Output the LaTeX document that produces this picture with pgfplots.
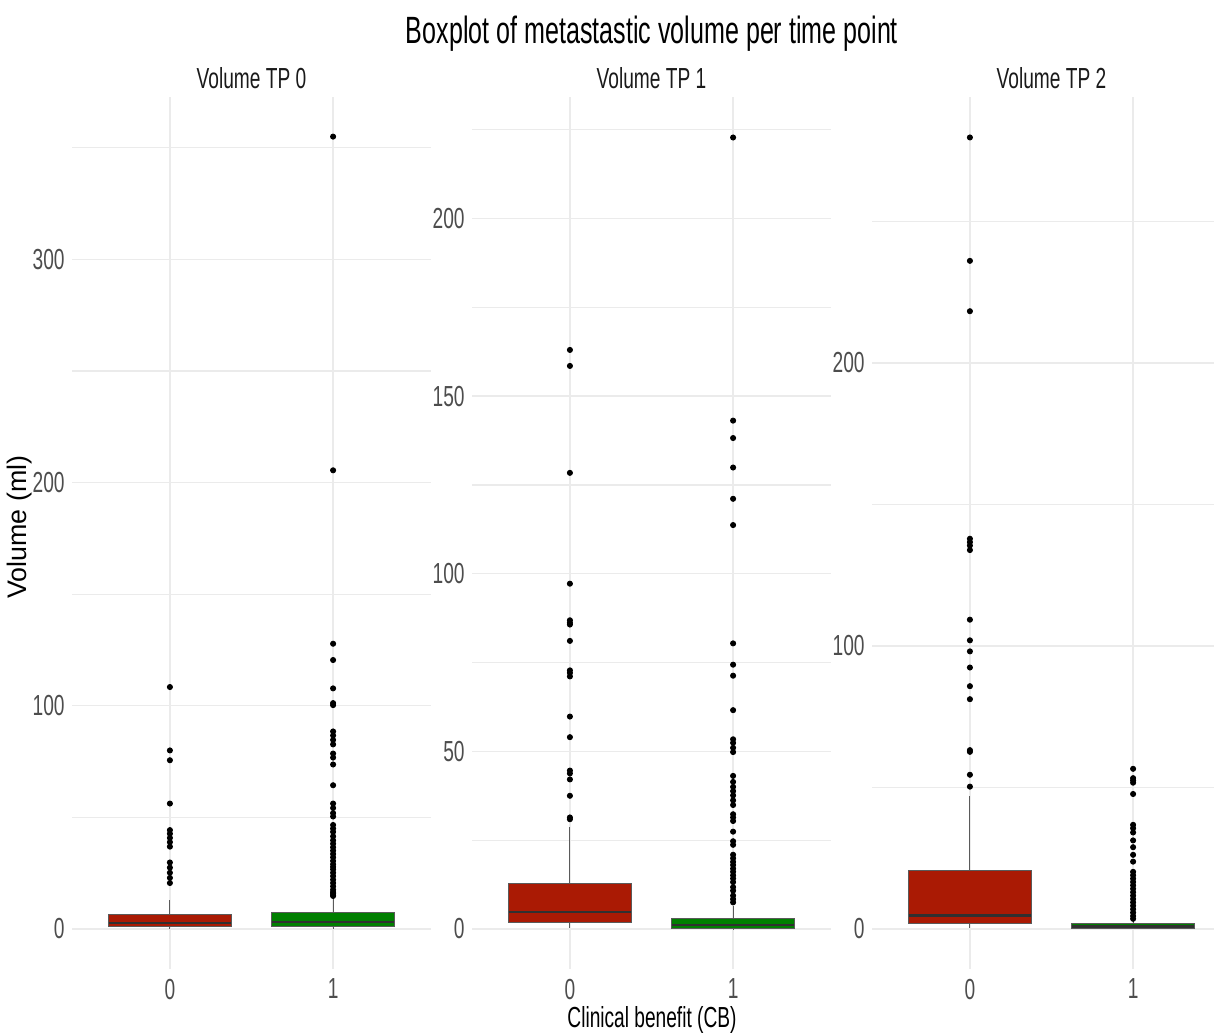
\documentclass[border=0pt]{standalone}
\usepackage{fontspec}
\setmainfont[FakeStretch=0.66]{Liberation Sans}
\newfontfamily\ylabfont{Liberation Sans}
\usepackage{pgfplots}
\pgfplotsset{compat=1.18}
\usepgfplotslibrary{statistics}
\definecolor{cred}{HTML}{AA1A04}
\definecolor{cgreen}{HTML}{007F00}
\definecolor{edgec}{HTML}{5A5A5A}
\definecolor{medc}{HTML}{303030}
\definecolor{gridc}{HTML}{EBEBEB}
\definecolor{tickc}{HTML}{4D4D4D}
\definecolor{stripc}{HTML}{1A1A1A}
\pgfplotsset{
  facet/.style={
    scale only axis, width=179.5pt, height=435.8pt,
    xmin=0.4, xmax=2.6, xtick={1,2}, xticklabels={0,1},
    axis line style={draw=none}, major tick length=0pt, minor tick length=0pt,
    xmajorgrids, ymajorgrids, yminorgrids,
    major grid style={draw=gridc, line width=0.7pt},
    minor grid style={draw=gridc, line width=0.6pt},
    ticklabel style={font=\fontsize{14.5}{16}\selectfont, text=tickc},
    /pgf/number format/assume math mode=true,
    yticklabel style={inner sep=2pt, xshift=-1.5pt},
    xticklabel style={inner sep=2pt, yshift=-3pt},
    boxplot/draw direction=y,
    boxplot/box extend=0.75, boxplot/whisker extend=0,
    boxplot/every box/.style={draw=edgec, line width=0.5pt},
    boxplot/every whisker/.style={draw=edgec, line width=0.5pt},
    boxplot/every median/.style={draw=medc, line width=1.1pt},
  },
  redbox/.style={draw=edgec, boxplot/every box/.append style={fill=cred},
    mark=*, mark size=1.3pt, mark options={fill=black, draw=black, solid}},
  greenbox/.style={draw=edgec, boxplot/every box/.append style={fill=cgreen},
    mark=*, mark size=1.3pt, mark options={fill=black, draw=black, solid}},
}
\begin{document}
\begin{tikzpicture}
\path[use as bounding box] (0pt,0pt) rectangle (607pt,517pt);

% ---------- TP 0 ----------
\begin{axis}[facet, at={(36pt,32.7pt)}, anchor=south west,
  ymin=-17.75, ymax=372.75, ytick={0,100,200,300}, minor ytick={50,150,250,350}]
\addplot[redbox, boxplot prepared={draw position=1, lower whisker=0.2,
  lower quartile=1.2, median=2.6, upper quartile=6.4, upper whisker=13}]
  table[row sep=\\, y index=0] {y\\ 108.4\\ 80\\ 75.6\\ 56.2\\ 44.3\\ 42.7\\ 40.8\\ 38.9\\ 36.9\\ 29.8\\ 27.5\\ 25.2\\ 22.9\\ 20.6\\};
\addplot[greenbox, boxplot prepared={draw position=2, lower whisker=0.1,
  lower quartile=1.2, median=3.05, upper quartile=7.3, upper whisker=13.7}]
  table[row sep=\\, y index=0] {y\\ 355\\ 205.5\\ 127.8\\ 120.5\\ 107.8\\ 101.2\\ 100.3\\ 88.5\\ 86.7\\ 84.7\\ 82.7\\ 78.6\\ 76.8\\ 73.7\\ 64.4\\ 56.2\\ 54.2\\ 51.9\\ 50.4\\ 46.6\\ 45\\ 43.5\\ 41.5\\ 39.7\\ 38.2\\ 36.6\\ 35.1\\ 33.6\\ 32.1\\ 30.5\\ 29\\ 27.8\\ 26.7\\ 25.2\\ 23.7\\ 22.1\\ 20.6\\ 19.1\\ 17.6\\ 16.5\\ 16\\ 15.2\\ 14.8\\};
\end{axis}

% ---------- TP 1 ----------
\begin{axis}[facet, at={(236pt,32.7pt)}, anchor=south west,
  ymin=-11.15, ymax=234.2, ytick={0,50,100,150,200}, minor ytick={25,75,125,175,225}]
\addplot[redbox, boxplot prepared={draw position=1, lower whisker=0.3,
  lower quartile=1.9, median=4.8, upper quartile=12.8, upper whisker=28.8}]
  table[row sep=\\, y index=0] {y\\ 163\\ 158.5\\ 128.4\\ 97.2\\ 86.9\\ 86.2\\ 85.7\\ 81.1\\ 72.8\\ 72.1\\ 71.1\\ 59.8\\ 54\\ 44.6\\ 43.8\\ 42.1\\ 37.5\\ 31.4\\ 30.9\\};
\addplot[greenbox, boxplot prepared={draw position=2, lower whisker=0,
  lower quartile=0.05, median=1.05, upper quartile=2.9, upper whisker=6.5}]
  table[row sep=\\, y index=0] {y\\ 222.8\\ 143.1\\ 138.2\\ 129.9\\ 121.1\\ 113.7\\ 80.4\\ 74.4\\ 71.3\\ 61.6\\ 53.4\\ 52.4\\ 51\\ 49.8\\ 43.1\\ 41.4\\ 40\\ 38.8\\ 37.6\\ 36.2\\ 34.9\\ 32.3\\ 31.4\\ 30.4\\ 27.4\\ 24.7\\ 23.7\\ 20.9\\ 19.9\\ 18.9\\ 18\\ 17\\ 16.1\\ 15.1\\ 14.2\\ 13.2\\ 11.8\\ 10.8\\ 9.4\\ 8.4\\ 7.5\\};
\end{axis}

% ---------- TP 2 ----------
\begin{axis}[facet, at={(436pt,32.7pt)}, anchor=south west,
  ymin=-14, ymax=294, ytick={0,100,200}, minor ytick={50,150,250}]
\addplot[redbox, boxplot prepared={draw position=1, lower whisker=0.4,
  lower quartile=1.9, median=4.8, upper quartile=20.6, upper whisker=46.9}]
  table[row sep=\\, y index=0] {y\\ 279.7\\ 236.1\\ 218.3\\ 137.9\\ 136.7\\ 135.5\\ 133.9\\ 109.3\\ 102\\ 98.1\\ 92.4\\ 85.8\\ 81.2\\ 63.2\\ 62.6\\ 54.5\\ 50.3\\};
\addplot[greenbox, boxplot prepared={draw position=2, lower whisker=0,
  lower quartile=0, median=0.9, upper quartile=2.0, upper whisker=2.8}]
  table[row sep=\\, y index=0] {y\\ 56.6\\ 53.3\\ 52.5\\ 51.7\\ 47.7\\ 36.8\\ 35.6\\ 34.1\\ 31.3\\ 28.9\\ 26.2\\ 23.8\\ 20.2\\ 19\\ 17.8\\ 16.6\\ 15.4\\ 14.2\\ 13\\ 11.8\\ 10.6\\ 9.4\\ 8.2\\ 7\\ 5.8\\ 4.6\\ 3.6\\};
\end{axis}

% ---------- texts ----------
\node[anchor=base, font=\fontsize{19}{22}\selectfont] at (326pt,495pt) {Boxplot of metastastic volume per time point};
\node[anchor=base, text=stripc, font=\fontsize{14.5}{16}\selectfont] at (125.75pt,472.8pt) {Volume TP 0};
\node[anchor=base, text=stripc, font=\fontsize{14.5}{16}\selectfont] at (325.75pt,472.8pt) {Volume TP 1};
\node[anchor=base, text=stripc, font=\fontsize{14.5}{16}\selectfont] at (525.75pt,472.8pt) {Volume TP 2};
\node[anchor=base, font=\fontsize{14.5}{16}\selectfont] at (326pt,3.5pt) {Clinical benefit (CB)};
\node[rotate=90, font=\ylabfont\fontsize{13.4}{15}\selectfont] at (10pt,253.5pt) {Volume (ml)};
\end{tikzpicture}
\end{document}
